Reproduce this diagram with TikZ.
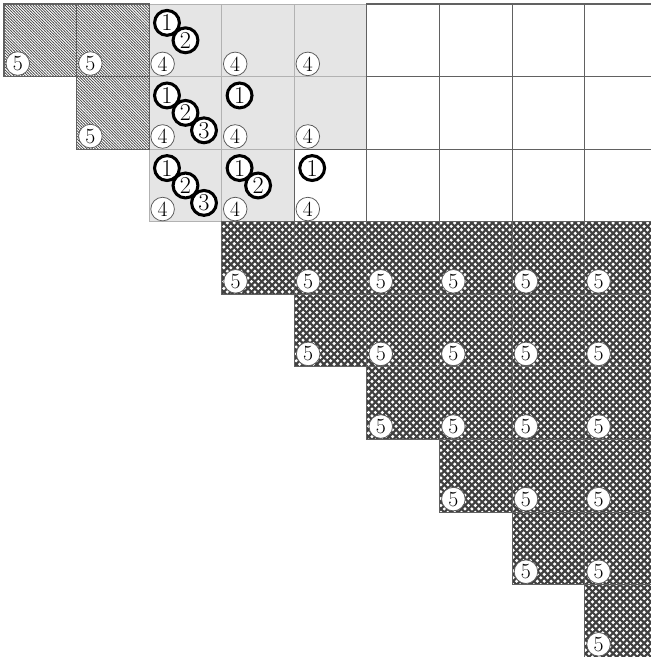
\documentclass[tikz,border=0pt]{standalone}
\usepackage{tikz}
\usetikzlibrary{patterns}
\definecolor{cellgray}{gray}{0.90}
\definecolor{gridline}{gray}{0.38}
\definecolor{lightline}{gray}{0.70}
%% dense diagonal lines and staggered dots for the filled cells
\pgfdeclarepatternformonly{fine lines}{\pgfqpoint{-1pt}{-1pt}}{\pgfqpoint{3.2pt}{3.2pt}}{\pgfqpoint{2.2pt}{2.2pt}}{%
  \pgfsetlinewidth{0.55pt}
  \pgfpathmoveto{\pgfqpoint{-0.2pt}{2.4pt}}
  \pgfpathlineto{\pgfqpoint{2.4pt}{-0.2pt}}
  \pgfusepath{stroke}}
\pgfdeclarepatternformonly{fine dots}{\pgfqpoint{-1.5pt}{-1.5pt}}{\pgfqpoint{7pt}{7pt}}{\pgfqpoint{5.4pt}{5.4pt}}{%
  \pgfpathcircle{\pgfqpoint{0pt}{0pt}}{1.35pt}
  \pgfpathcircle{\pgfqpoint{2.7pt}{2.7pt}}{1.35pt}
  \pgfusepath{fill}}
\begin{document}
\begin{tikzpicture}[x=2cm, y=-2cm,
  shade cell/.style={fill=cellgray, draw=lightline, line width=0.6pt},
  open cell/.style={fill=white, draw=gridline, line width=0.8pt},
  hatch cell/.style={pattern=fine lines, pattern color=black!70,
                     draw=gridline, line width=0.8pt},
  dot cell/.style={preaction={fill=black!75}, pattern=fine dots,
                   pattern color=white, draw=gridline, line width=0.8pt},
  small/.style={circle, draw=black!65, fill=white, line width=0.6pt,
                minimum size=18.5pt, inner sep=0pt,
                font=\fontsize{17}{17}\selectfont},
  bold/.style={circle, draw=black, fill=white, line width=2.4pt,
               minimum size=19.5pt, inner sep=0pt,
               font=\fontsize{19}{19}\selectfont}
]
  \useasboundingbox (-0.055,-0.055) rectangle (8.912,8.995);

  %% Shaded block and open cells
  \foreach \r/\c in {0/2,0/3,0/4,1/2,1/3,1/4,2/2,2/3}
    \draw[shade cell] (\c,\r) rectangle ++(1,1);
  \foreach \r in {0,1,2}
    \foreach \c in {5,...,8}
      \draw[open cell] (\c,\r) rectangle ++(1,1);
  \draw[open cell] (4,2) rectangle ++(1,1);

  %% Hatched cells (top left)
  \foreach \r/\c in {0/0,0/1,1/1}{
    \draw[hatch cell] (\c,\r) rectangle ++(1,1);
    \node[small] (five-\r-\c) at (\c+0.19,\r+0.82) {5};
  }

  %% Dotted staircase
  \foreach \r in {3,...,8}
    \foreach \c in {\r,...,8}{
      \draw[dot cell] (\c,\r) rectangle ++(1,1);
      \node[small] (five-\r-\c) at (\c+0.19,\r+0.82) {5};
    }

  %% Labels in the upper block
  \foreach \r in {0,1,2}
    \foreach \c in {2,3,4}
      \node[small] (four-\r-\c) at (\c+0.185,\r+0.825) {4};
  \foreach \r/\c/\n in {0/2/1,0/2/2,1/2/1,1/2/2,1/2/3,1/3/1,
                        2/2/1,2/2/2,2/2/3,2/3/1,2/3/2,2/4/1}
    \node[bold] (mark\n-\r-\c) at (\c-0.01+0.255*\n,\r+0.02+0.24*\n) {\n};
\end{tikzpicture}
\end{document}
